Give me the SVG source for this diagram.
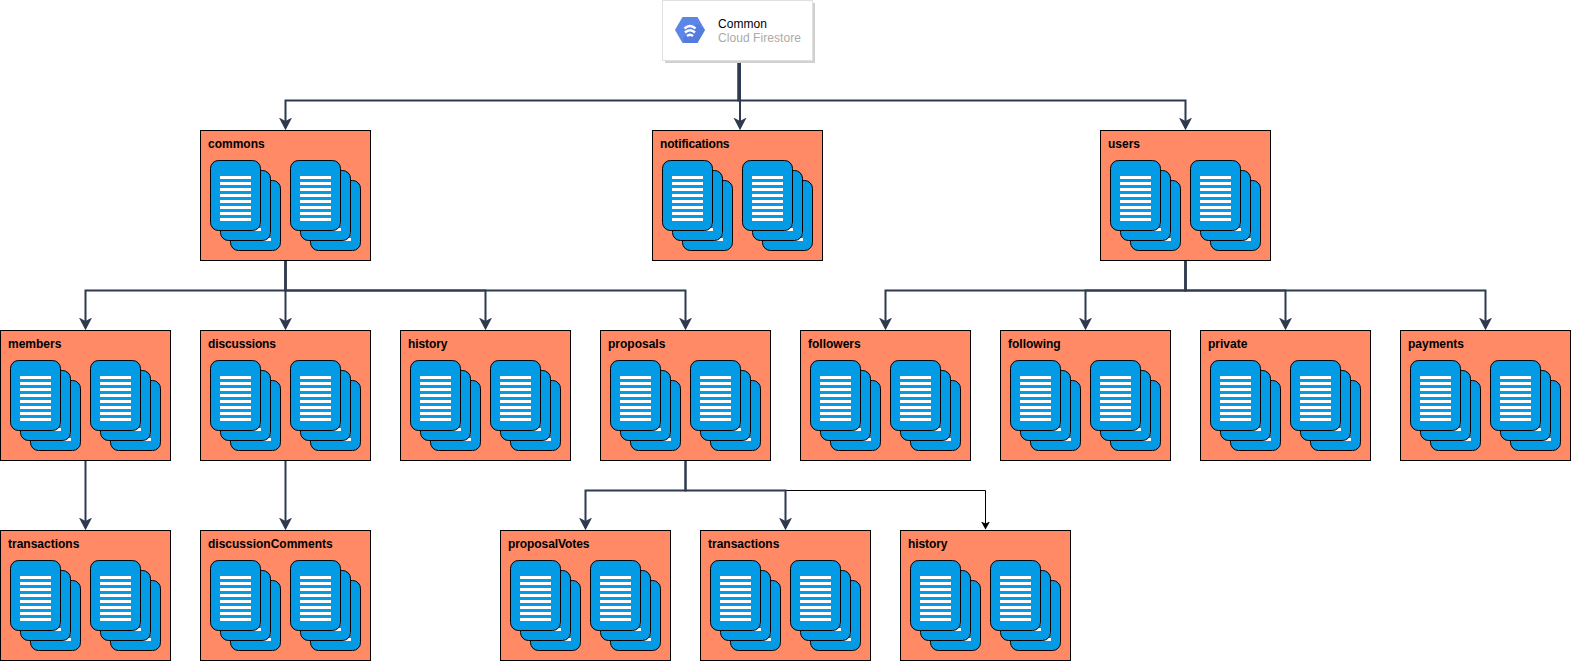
<svg xmlns="http://www.w3.org/2000/svg" width="1571" height="661" viewBox="0 0 1571 661">
<style>
.box{fill:#FF8A65;stroke:#000;stroke-width:1}
.lbl{font:bold 12px "Liberation Sans",Arial,sans-serif;fill:#000}
.card{fill:#039BE5;stroke:#000;stroke-width:1}
.ln{fill:#fff}
.c{fill:none;stroke:#2F3A4F;stroke-width:2}
.t{fill:none;stroke:#000;stroke-width:1}
</style>
<defs>
<marker id="a" markerUnits="userSpaceOnUse" markerWidth="16" markerHeight="16" refX="10.500" refY="8" orient="auto" viewBox="0 0 16 16"><path d="M0 1.400L12.800 8L0 14.600L3.500 8Z" fill="#2F3A4F"/></marker>
<marker id="b" markerUnits="userSpaceOnUse" markerWidth="10" markerHeight="10" refX="7.500" refY="5" orient="auto" viewBox="0 0 10 10"><path d="M0 0.500L8 5L0 9.500L2 5Z" fill="#000"/></marker>
<g id="doc">
<rect class="card" x="0" y="0" width="50" height="70" rx="8"/>
<g class="ln"><rect x="9.500" y="15.500" width="31" height="3"/><rect x="9.500" y="21.500" width="31" height="3"/><rect x="9.500" y="27.500" width="31" height="3"/><rect x="9.500" y="33.500" width="31" height="3"/><rect x="9.500" y="39.500" width="31" height="3"/><rect x="9.500" y="45.500" width="31" height="3"/><rect x="9.500" y="51.500" width="31" height="3"/><rect x="9.500" y="57.500" width="31" height="3"/></g>
</g>
<g id="stack">
<use href="#doc" x="20" y="20"/>
<path d="M57 80.500L60.500 80.500L60.500 77.500Z" fill="#fff"/>
<use href="#doc" x="10" y="10"/>
<path d="M47 70.500L50.500 70.500L50.500 67.500Z" fill="#fff"/>
<use href="#doc"/>
</g>
<g id="node">
<rect class="box" x="0" y="0" width="170" height="130"/>
<use href="#stack" x="10" y="30"/>
<use href="#stack" x="90" y="30"/>
</g>
</defs>
<g id="connectors">
<path class="c" d="M738.500 61V100.500H285.500V128" marker-end="url(#a)"/>
<path class="c" d="M740 61V128" marker-end="url(#a)"/>
<path class="c" d="M738.500 61V100.500H1185.500V128" marker-end="url(#a)"/>
<path class="c" d="M285.500 260V290.500H85.500V328" marker-end="url(#a)"/>
<path class="c" d="M285.500 260V328" marker-end="url(#a)"/>
<path class="c" d="M285.500 260V290.500H485.500V328" marker-end="url(#a)"/>
<path class="c" d="M285.500 260V290.500H685.500V328" marker-end="url(#a)"/>
<path class="c" d="M1185.500 260V290.500H885.500V328" marker-end="url(#a)"/>
<path class="c" d="M1185.500 260V290.500H1085.500V328" marker-end="url(#a)"/>
<path class="c" d="M1185.500 260V290.500H1285.500V328" marker-end="url(#a)"/>
<path class="c" d="M1185.500 260V290.500H1485.500V328" marker-end="url(#a)"/>
<path class="c" d="M85.500 460V528" marker-end="url(#a)"/>
<path class="c" d="M285.500 460V528" marker-end="url(#a)"/>
<path class="t" d="M685.500 460V490.500H985.500V529" marker-end="url(#b)"/>
<path class="c" d="M685.500 460V490.500H585.500V528" marker-end="url(#a)"/>
<path class="c" d="M685.500 460V490.500H785.500V528" marker-end="url(#a)"/>
</g>
<g id="firestore">
<rect x="665" y="3" width="150" height="60" fill="#d0d0d0"/>
<rect x="662.500" y="0.500" width="150" height="60" fill="#fff" stroke="#e0e0e0"/>
<path d="M675 30L682.500 17H697.500L705 30L697.500 43H682.500Z" fill="#5C85E8"/>
<path d="M697 24L705 30L697.500 43H685L683 38Z" fill="#4A73D0" opacity="0.5"/>
<path d="M684.500 28.500Q690 23.500 695.500 28.500M685 32.500Q690 28 695 32.500M687 36Q690 33.500 693 36" fill="none" stroke="#fff" stroke-width="2.400"/>
<text x="718" y="28" font-family="Liberation Sans,Arial,sans-serif" font-size="12" fill="#000" textLength="49">Common</text>
<text x="718" y="42" font-family="Liberation Sans,Arial,sans-serif" font-size="12" fill="#AAAAAA" textLength="83">Cloud Firestore</text>
</g>
<g id="commons" transform="translate(200.500 130.500)"><use href="#node"/><text class="lbl" x="7.500" y="17">commons</text></g>
<g id="notifications" transform="translate(652.500 130.500)"><use href="#node"/><text class="lbl" x="7.500" y="17" textLength="69.500">notifications</text></g>
<g id="users" transform="translate(1100.500 130.500)"><use href="#node"/><text class="lbl" x="7.500" y="17">users</text></g>
<g id="members" transform="translate(0.500 330.500)"><use href="#node"/><text class="lbl" x="7.500" y="17">members</text></g>
<g id="discussions" transform="translate(200.500 330.500)"><use href="#node"/><text class="lbl" x="7.500" y="17" textLength="68">discussions</text></g>
<g id="history1" transform="translate(400.500 330.500)"><use href="#node"/><text class="lbl" x="7.500" y="17" textLength="39.500">history</text></g>
<g id="proposals" transform="translate(600.500 330.500)"><use href="#node"/><text class="lbl" x="7.500" y="17">proposals</text></g>
<g id="followers" transform="translate(800.500 330.500)"><use href="#node"/><text class="lbl" x="7.500" y="17">followers</text></g>
<g id="following" transform="translate(1000.500 330.500)"><use href="#node"/><text class="lbl" x="7.500" y="17">following</text></g>
<g id="private" transform="translate(1200.500 330.500)"><use href="#node"/><text class="lbl" x="7.500" y="17">private</text></g>
<g id="payments" transform="translate(1400.500 330.500)"><use href="#node"/><text class="lbl" x="7.500" y="17">payments</text></g>
<g id="transactions1" transform="translate(0.500 530.500)"><use href="#node"/><text class="lbl" x="7.500" y="17">transactions</text></g>
<g id="discussionComments" transform="translate(200.500 530.500)"><use href="#node"/><text class="lbl" x="7.500" y="17">discussionComments</text></g>
<g id="proposalVotes" transform="translate(500.500 530.500)"><use href="#node"/><text class="lbl" x="7.500" y="17" textLength="81.500">proposalVotes</text></g>
<g id="transactions2" transform="translate(700.500 530.500)"><use href="#node"/><text class="lbl" x="7.500" y="17">transactions</text></g>
<g id="history2" transform="translate(900.500 530.500)"><use href="#node"/><text class="lbl" x="7.500" y="17" textLength="39.500">history</text></g>
</svg>
